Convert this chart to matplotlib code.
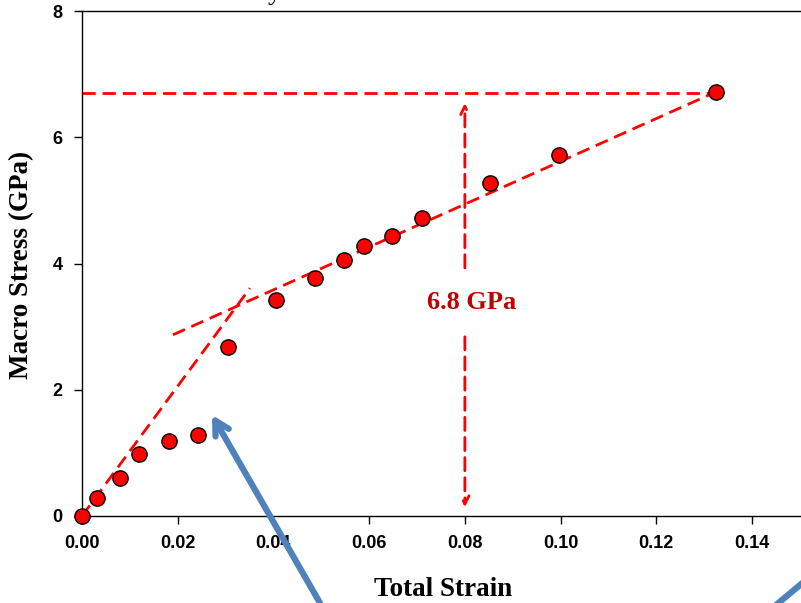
import matplotlib
matplotlib.use("Agg")
import matplotlib.pyplot as plt

plt.rcParams['lines.scale_dashes'] = False

# Data
strain = [0.0, 0.0031, 0.0079, 0.0119, 0.0182, 0.0242, 0.0305, 0.0405, 0.0487,
          0.0547, 0.0589, 0.0648, 0.0710, 0.0853, 0.0997, 0.1325]
stress = [0.0, 0.28, 0.60, 0.98, 1.19, 1.28, 2.68, 3.42, 3.77,
          4.06, 4.28, 4.44, 4.72, 5.28, 5.72, 6.72]

elastic_x = [0.0, 0.0351]
elastic_y = [0.0, 3.61]
hard_x = [0.0190, 0.1325]
hard_y = [2.87, 6.72]
peak_y = 6.70
peak_x = [0.0, 0.1325]
arrow_x = 0.080
xticks = [0.00, 0.02, 0.04, 0.06, 0.08, 0.10, 0.12, 0.14]
yticks = [0, 2, 4, 6, 8]

W, H = 801, 603
fig = plt.figure(figsize=(W / 100, H / 100), dpi=100)
x0px, ytoppx, ybotpx = 82, 11, 516
pxperx = (752 - 82) / 0.14
xmax = 0.16
ax = fig.add_axes([x0px / W, (H - ybotpx) / H, xmax * pxperx / W, (ybotpx - ytoppx) / H])
ax.set_xlim(0, xmax)
ax.set_ylim(0, 8)

red = '#FF0000'
dash = (9.5, 5.0)
lw = 2.0
ax.plot(elastic_x, elastic_y, color=red, lw=lw, ls=(0, dash), zorder=2)
ax.plot(hard_x, hard_y, color=red, lw=lw, ls=(0, dash), zorder=2)
ax.plot(peak_x, [peak_y, peak_y], color=red, lw=lw, ls=(0, dash), zorder=2)

# double arrow split around label
ax.annotate('', xy=(arrow_x, 6.54), xytext=(arrow_x, 3.93),
            arrowprops=dict(arrowstyle='->,head_length=0.6,head_width=0.3', color=red,
                            lw=lw, ls=(0, dash), shrinkA=0, shrinkB=0))
ax.annotate('', xy=(arrow_x, 0.14), xytext=(arrow_x, 2.84),
            arrowprops=dict(arrowstyle='->,head_length=0.6,head_width=0.3', color=red,
                            lw=lw, ls=(0, dash), shrinkA=0, shrinkB=0))
ax.text(0.0815, 3.38, '6.8 GPa', color='#C00000', fontsize=19, fontweight='bold',
        family='Liberation Serif', ha='center', va='center')

ax.plot(strain, stress, 'o', ms=11, mfc=red, mec='black', mew=1.0, zorder=3, clip_on=False)

ax.set_xticks(xticks)
ax.set_xticklabels([f'{v:.2f}' for v in xticks])
ax.set_yticks(yticks)
ax.set_yticklabels([str(v) for v in yticks])
for lab in ax.get_xticklabels() + ax.get_yticklabels():
    lab.set_fontweight('bold')
    lab.set_family('Liberation Sans')
    lab.set_fontsize(13)
ax.tick_params(direction='out', length=6, width=1, pad=8)
for s in ax.spines.values():
    s.set_linewidth(1.0)

fig.text(443 / W, 1 - 590 / H, 'Total Strain', fontsize=19.5, fontweight='bold',
         family='Liberation Serif', ha='center', va='center')
fig.text(22 / W, 1 - 265 / H, 'Macro Stress (GPa)', fontsize=19.5, fontweight='bold',
         family='Liberation Serif', ha='center', va='center', rotation=90)
fig.text(268 / W, 1.0 + 1 / H, 'y', fontsize=19.5, family='Liberation Serif',
         ha='left', va='baseline')

blue = '#4F81BD'
fig.patches  # noqa
ax.annotate('', xy=(212, H - 415), xycoords='figure pixels',
            xytext=(320, H - 603), textcoords='figure pixels',
            arrowprops=dict(arrowstyle='->,head_length=1.0,head_width=0.55', color=blue,
                            lw=4.5, shrinkA=0, shrinkB=0), annotation_clip=False)
ax.annotate('', xy=(830, H - 560), xycoords='figure pixels',
            xytext=(770, H - 610), textcoords='figure pixels',
            arrowprops=dict(arrowstyle='-', color=blue, lw=4.5, shrinkA=0, shrinkB=0),
            annotation_clip=False)

fig.savefig('out.png', dpi=100)
